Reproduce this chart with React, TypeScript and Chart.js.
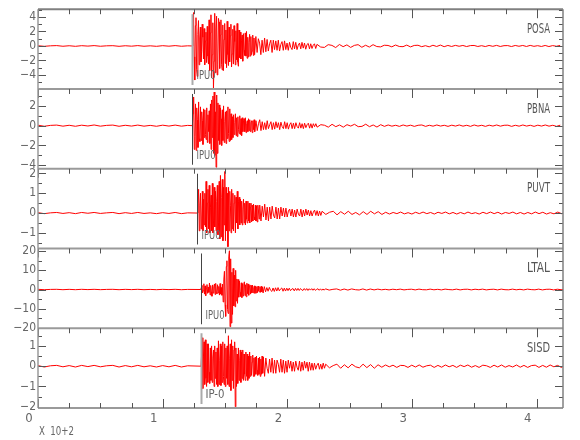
import React, { useEffect, useRef } from "react";
import { Chart, registerables } from "chart.js";

Chart.register(...registerables);

// ---------------- data ----------------
const STATIONS = ["POSA", "PBNA", "PUVT", "LTAL", "SISD"];
const PICK_LABELS = ["IPU0", "IPU0", "IPU0", "IPU0", "IP-0"];
const PICK_TIMES = [1.237, 1.238, 1.278, 1.305, 1.307];
const Y_MIN = [-5.93, -4.35, -1.79, -20.2, -2.06];
const Y_MAX = [5.07, 3.71, 2.24, 21.4, 1.87];
const Y_LABEL_TICKS = [
  [-4, -2, 0, 2, 4],
  [-4, -2, 0, 2],
  [-1, 0, 1, 2],
  [-20, -10, 0, 10, 20],
  [-2, -1, 0, 1],
];
const Y_MINOR_STEP = [1, 1, 0.5, 5, 0.5];
const X_MIN = 0;
const X_MAX = 4.21;
const X_LABEL_TICKS = [0, 1, 2, 3, 4];
const X_MINOR_STEP = 0.25;
const X_UNIT_LABEL = "X  10+2";

// sample intervals (x100 s) of the four parts of each trace
const PRE_DT = 0.05;   // noise before the pick, from t = 0
const EVENT_DT = 0.005; // strong motion, from the pick
const CODA_DT = 0.01;  // coda, after the strong motion
const TAIL_DT = 0.03;  // late noise

const PRE_POSA = [0.03, -0.05, 0.02, 0.05, -0.04, 0.03, -0.05, 0.04, -0.02, 0.05, -0.04, 0.02, 0.04, -0.05, 0.03, -0.03, 0.05, -0.04, 0.02, -0.05, 0.04, -0.03, 0.05, -0.04, 0.02];
const PRE_PBNA = [0.05, -0.06, 0.03, 0.06, -0.05, 0.04, -0.06, 0.05, -0.03, 0.07, -0.05, 0.03, 0.06, -0.06, 0.04, -0.04, 0.06, -0.05, 0.03, -0.06, 0.05, -0.04, 0.06, -0.05, 0.03];
const PRE_PUVT = [0.02, -0.03, 0.01, 0.03, -0.02, 0.02, -0.03, 0.03, -0.01, 0.03, -0.02, 0.01, 0.03, -0.03, 0.02, -0.02, 0.03, -0.02, 0.01, -0.03, 0.02, -0.02, 0.03, -0.03, 0.01];
const PRE_LTAL = [0.1, -0.1, 0.05, 0.1, -0.1, 0.08, -0.1, 0.1, -0.05, 0.1, -0.08, 0.05, 0.1, -0.1, 0.08, -0.05, 0.1, -0.1, 0.05, -0.1, 0.08, -0.05, 0.1, -0.1, 0.05];
const PRE_SISD = [0.03, -0.04, 0.02, 0.04, -0.03, 0.03, -0.04, 0.04, -0.02, 0.04, -0.03, 0.02, 0.04, -0.04, 0.03, -0.03, 0.04, -0.03, 0.02, -0.04, 0.03, -0.03, 0.04, -0.04, 0.02];

const EVENT_POSA = [
  0, 2.1, 4.6, -1.5, -4.7, 2.8, 3.9, -3.3, -4.2, 1.6,
  3.5, -2.6, 1.1, 2.6, -2.2, -0.8, 3.0, 1.2, -1.8, 2.4,
  -2.6, 0.7, 1.9, -2.3, 2.7, -1.4, -2.5, 3.6, -3.4, 1.8,
  4.3, -4.4, -1.2, 3.2, -5.8, -2.1, 4.5, -3.7, 2.2, 4.1,
  -4.0, -2.5, 3.8, 3.3, -3.1, 1.5, 3.6, -2.6, -3.3, 2.9,
  -3.4, 0.9, 3.1, -2.4, 2.2, -3.0, 3.4, -1.2, -2.7, 2.6,
  -2.2, 1.4, 3.0, -2.9, -1.1, 2.3, -2.5, 2.8, 0.6, -2.6,
  2.1, -1.9, 3.1, -2.2, -2.8, 2.2, -1.6, 1.9, -1.8, 0.8,
  1.5, -2.1, 1.7, -0.6, -1.3, 1.8, -1.4, 2.0, -1.7, 1.2,
  -1.5, 0.5, 1.6, -1.4, 1.3, -1.2, -0.7, 1.5, -1.3, 1.1,
];
const EVENT_PBNA = [
  0, 1.2, 2.9, -2.4, -1.1, 2.2, -2.5, 1.8, 0.6, -2.2,
  2.4, -1.3, -1.6, 1.9, -1.5, 1.4, 0.5, -1.9, 1.7, -1.2,
  1.6, -0.9, -1.4, 1.8, -1.7, 1.1, -0.6, 1.5, -1.8, 2.2,
  -2.4, 2.6, -1.2, 3.0, -2.8, 3.4, -3.0, 1.4, -4.2, 3.1,
  -2.8, 2.3, -1.5, 2.1, -1.9, 1.8, 0.7, -2.0, 1.6, -1.5,
  2.0, -1.7, 0.4, 1.4, -1.8, 1.5, -1.3, 1.9, -0.8, -1.6,
  1.7, -1.5, 1.2, -1.4, 0.9, -1.2, 1.1, -0.9, 0.3, 1.2,
  -1.0, 0.8, -1.1, 0.9, -0.4, -0.8, 1.0, -0.9, 0.7, -1.0,
  0.8, -0.6, 0.5, 0.7, -0.6, 0.8, -0.7, 0.2, 0.5, -0.6,
  0.7, -0.5, 0.6, -0.6, 0.3, 0.5, -0.7, 0.5, -0.4, 0.6,
];
const EVENT_PUVT = [
  0, 0.5, 1.2, -0.9, 0.4, 1.0, -0.8, -0.3, 1.1, -0.9,
  0.7, -0.6, 1.0, -0.7, 1.6, -1.0, 0.5, 1.2, -0.8, 1.4,
  -1.0, 0.3, 0.9, -0.9, 1.5, -1.0, -0.4, 1.3, -0.7, 1.1,
  -0.9, 0.6, 1.4, -1.1, -0.5, 1.6, -1.3, 1.9, -1.2, 0.8,
  1.7, -1.4, 1.3, -0.6, 2.1, -1.4, 1.3, -0.9, 1.0, -1.7,
  1.3, -0.9, 1.1, 0.4, -1.0, 1.2, -0.8, 1.0, -0.9, 0.5,
  0.9, -1.0, 0.8, -0.5, 1.1, -0.8, 0.6, 0.8, -0.6, 0.7,
  -0.5, 0.6, -0.6, 0.2, 0.7, -0.5, 0.5, -0.6, 0.6, -0.3,
  -0.5, 0.6, -0.4, 0.5, -0.5, 0.3, 0.5, -0.45, 0.4, -0.4,
  0.45, -0.2, -0.35, 0.4, -0.4, 0.35, -0.45, 0.4, 0.1, -0.3,
];
const EVENT_LTAL = [
  0, 1.1, 2.2, -1.8, -0.6, 3.0, -2.4, 1.9, -3.2, 0.8,
  2.6, -2.0, 1.2, -1.5, 3.4, -2.8, 2.1, -1.1, -3.5, 2.4,
  -1.9, 1.4, 2.9, -2.6, 3.2, -1.5, -2.2, 2.5, -1.8, 1.6,
  -2.9, 3.1, -2.4, 1.0, -3.0, 2.8, -6.5, 5.0, 9.5, -8.0,
  -14.0, 12.0, 15.0, -10.5, -12.5, 17.0, 20.2, -19.4, 16.0, -17.5,
  9.0, -13.0, 11.0, -8.5, 7.5, -9.0, 10.0, -6.0, 5.5, -7.2,
  5.2, -4.0, 4.4, -1.5, -3.6, 3.5, -4.2, 3.0, -3.4, 2.8,
  4.0, -3.1, 2.5, -3.8, 3.3, -2.2, 2.9, -3.0, 1.6, 2.4,
  -2.4, 2.1, -1.8, 2.3, -1.7, 0.9, 1.9, -2.0, 1.6, -1.8,
  1.5, -1.6, 1.8, -0.7, -1.3, 1.4, -1.5, 1.7, -1.2, 1.3,
];
const EVENT_SISD = [
  0, 0.6, 1.4, -1.1, 0.5, 1.2, -0.9, 1.3, -0.6, -1.0,
  1.1, -0.8, 1.1, -0.3, -0.85, 0.9, -0.7, 1.0, -0.8, 0.4,
  0.8, -1.0, 1.0, -0.6, 0.7, -0.9, 0.9, -1.0, 1.25, -0.9,
  0.3, 1.1, -0.95, 1.0, -0.8, 1.2, -0.5, -0.9, 1.1, -1.0,
  0.9, -0.6, 1.0, -0.9, 1.5, -1.0, 0.4, 1.1, -1.2, 1.3,
  -0.7, 1.0, -1.1, 0.8, 1.2, -2.0, 0.9, -1.0, 0.6, -0.85,
  0.9, -0.7, 0.3, 0.8, -0.8, 0.7, -0.6, 0.8, -0.7, 0.6,
  -0.4, -0.7, 0.7, -0.5, 0.6, -0.7, 0.5, -0.6, 0.7, -0.5,
  0.5, -0.45, 0.2, 0.55, -0.5, 0.4, -0.5, 0.45, -0.4, 0.5,
  -0.2, -0.45, 0.4, -0.4, 0.45, -0.5, 0.35, -0.4, 0.5, -0.35,
];

const CODA_POSA = [
  -1.2, 1.3, -0.9, 1.0, 0.4, -1.2, 0.8, -0.9, 1.1, -0.8,
  0.9, -0.7, 0.3, 0.8, -0.9, 0.8, -0.5, 0.7, -0.6, 0.8,
  -0.7, 0.2, 0.6, -0.6, 0.7, -0.5, 0.4, -0.6, 0.5, -0.2,
  -0.5, 0.6, -0.4, 0.5, -0.5, 0.1, 0.4, -0.4, 0.5, -0.3,
  0.4, -0.45, 0.2, 0.35, -0.4, 0.3, -0.35, 0.1, 0.3, -0.35,
];
const CODA_PBNA = [
  -0.6, 0.5, -0.5, 0.2, 0.6, -0.5, 0.4, -0.4, 0.3, -0.4,
  0.5, -0.3, 0.1, 0.4, -0.4, 0.3, -0.35, 0.4, -0.2, 0.3,
  -0.4, 0.35, -0.1, -0.3, 0.4, -0.3, 0.3, -0.35, 0.1, 0.3,
  -0.3, 0.25, -0.3, 0.3, -0.1, -0.25, 0.3, -0.25, 0.2, -0.3,
  0.25, -0.2, 0.1, 0.25, -0.25, 0.2, -0.25, 0.2, -0.1, 0.2,
];
const CODA_PUVT = [
  0.4, -0.4, 0.35, -0.2, 0.45, -0.35, 0.3, -0.4, 0.3, -0.3,
  0.35, -0.1, -0.25, 0.3, -0.3, 0.25, -0.3, 0.3, -0.15, 0.25,
  -0.2, 0.25, -0.2, 0.1, 0.2, -0.15, 0.2, -0.2, 0.15, -0.2,
  0.2, -0.05, -0.15, 0.2, -0.2, 0.15, -0.15, 0.2, -0.1, 0.15,
  -0.15, 0.12, -0.15, 0.05, 0.15, -0.12, 0.12, -0.15, 0.1, -0.12,
];
const CODA_LTAL = [
  -1.8, 1.5, -1.2, 1.0, -0.9, 1.1, -0.4, -1.0, 0.8, -1.0,
  0.9, -0.8, 1.0, -0.7, 0.3, 0.8, -0.9, 0.7, -0.8, 0.7,
  -0.6, 0.7, -0.6, 0.2, 0.5, -0.7, 0.6, -0.5, 0.6, -0.5,
  0.5, -0.2, -0.5, 0.5, -0.4, 0.5, -0.5, 0.4, -0.3, 0.45,
  -0.4, 0.4, -0.45, 0.1, 0.4, -0.4, 0.35, -0.4, 0.3, -0.35,
];
const CODA_SISD = [
  0.45, -0.5, 0.4, -0.1, -0.35, 0.35, -0.3, 0.4, -0.35, 0.3,
  -0.35, 0.3, 0.1, -0.3, 0.35, -0.3, 0.3, -0.35, 0.25, -0.3,
  0.3, -0.1, 0.25, -0.25, 0.2, -0.25, 0.25, -0.05, -0.2, 0.25,
  -0.25, 0.2, -0.2, 0.25, -0.1, 0.2, -0.25, 0.2, -0.2, 0.15,
  -0.2, 0.15, -0.15, 0.05, 0.15, -0.15, 0.1, -0.15, 0.15, -0.1,
];

const TAIL_POSA = [
  0.22, -0.15, -0.2, 0.18, 0.08, -0.22, 0.2, -0.1, 0.15, -0.2, 0.08, 0.18, -0.18, 0.1, -0.15, 0.18, -0.08,
  -0.13, 0.1, 0.07, -0.12, 0.13, -0.07, -0.1, 0.12, -0.13, 0.07, 0.1, -0.1, 0.04, -0.12, 0.1, -0.07, 0.12, -0.1, 0.07,
  -0.07, 0.08, -0.04, 0.07, -0.08, 0.05, 0.07, -0.07, 0.04, -0.08, 0.07, -0.05, 0.08, -0.07, 0.04,
  0.05, -0.08, 0.07, -0.04, 0.07, -0.07, 0.08, -0.05, 0.04, -0.07, 0.07, -0.08, 0.05, -0.04, 0.07,
];
const TAIL_PBNA = [
  -0.15, 0.1, 0.04, -0.15, 0.14, -0.1, 0.07, -0.15, 0.1, -0.04, 0.14, -0.1, -0.07, 0.15, -0.1, 0.07, -0.14, 0.1, -0.07,
  0.07, -0.05, 0.04, -0.07, 0.07, -0.04, 0.05, -0.07, 0.04, 0.07, -0.07, 0.04, -0.05, 0.07, -0.04, 0.04, -0.07, 0.05, -0.04, 0.07,
  -0.05, 0.04, -0.07, 0.07, -0.04, 0.04, -0.07, 0.05, -0.04, 0.07, -0.05, 0.04, 0.05, -0.07, 0.04, -0.05, 0.07, -0.04, 0.04, -0.07,
  0.05, -0.04, 0.07, -0.05, 0.04, -0.07, 0.05,
];
const TAIL_PUVT = [
  0.09, -0.07, 0.04, 0.09, -0.09, 0.07, -0.06, 0.09, -0.07, 0.03, -0.09, 0.07, -0.07, 0.09, -0.04, 0.07, -0.07,
  0.04, -0.05, 0.03, -0.03, 0.05, -0.04, 0.02, -0.05, 0.04, -0.03, 0.05, -0.03, 0.03, -0.05, 0.04, -0.02, 0.05,
  -0.04, 0.03, -0.05, 0.03, -0.04, 0.05, -0.03, 0.02, -0.05, 0.04, -0.03, 0.05, -0.03, 0.04, -0.05, 0.03, -0.02,
  0.05, -0.04, 0.03, -0.05, 0.03, -0.04, 0.05, -0.03, 0.04, -0.05, 0.02, -0.04, 0.05, -0.03, 0.03,
];
const TAIL_LTAL = [
  0.35, -0.3, 0.1, 0.3, -0.35, 0.25, -0.3, 0.3, -0.1, -0.25, 0.3, -0.3, 0.25, -0.2,
  0.2, -0.15, 0.1, -0.2, 0.15, -0.1, 0.2, -0.2, 0.05, 0.15, -0.2, 0.2, -0.1, -0.15, 0.2, -0.15, 0.1, -0.2,
  0.2, -0.05, -0.15, 0.2, -0.2, 0.1, 0.15, -0.2, 0.15, -0.1, 0.2, -0.2, 0.05, 0.15, -0.2, 0.2, -0.1, -0.15,
  0.2, -0.15, 0.1, -0.2, 0.2, -0.05, -0.15, 0.2, -0.2, 0.1, 0.15, -0.2, 0.15, -0.1, 0.2, -0.15,
];
const TAIL_SISD = [
  0.1, -0.08, 0.03, 0.1, -0.1, 0.07, -0.08, 0.1, -0.03, -0.08, 0.1, -0.07, 0.08, -0.1, 0.07,
  -0.05, 0.06, -0.03, 0.05, -0.06, 0.04, 0.03, -0.06, 0.05, -0.04, 0.06, -0.05, 0.02, 0.05, -0.06, 0.04, -0.05,
  0.06, -0.03, 0.04, -0.06, 0.05, -0.02, 0.06, -0.05, 0.03, -0.06, 0.05, 0.02, -0.06, 0.05, -0.04, 0.06, -0.05,
  0.03, -0.04, 0.06, -0.05, 0.04, -0.06, 0.03, 0.05, -0.06, 0.04, -0.05, 0.06, -0.03, 0.04, -0.06, 0.05, -0.03,
];

const PRE = [PRE_POSA, PRE_PBNA, PRE_PUVT, PRE_LTAL, PRE_SISD];
const EVENTS = [EVENT_POSA, EVENT_PBNA, EVENT_PUVT, EVENT_LTAL, EVENT_SISD];
const CODAS = [CODA_POSA, CODA_PBNA, CODA_PUVT, CODA_LTAL, CODA_SISD];
const TAILS = [TAIL_POSA, TAIL_PBNA, TAIL_PUVT, TAIL_LTAL, TAIL_SISD];

// ---------------- styles ----------------
const FONT = "'Liberation Sans Narrow', 'DejaVu Sans Condensed', 'Liberation Sans', sans-serif";
const TEXT = "#666";
const FRAME = "#9a9a9a";
const TICK = "#555";
const TRACE = "#ff0000";
const PICK_STYLE = [
  { color: "#aaa", width: 2 },
  { color: "#444", width: 1 },
  { color: "#444", width: 1 },
  { color: "#444", width: 1 },
  { color: "#aaa", width: 2 },
];

function buildPoints(k: number) {
  const pts: { x: number; y: number }[] = [];
  PRE[k].forEach((v, i) => pts.push({ x: X_MIN + i * PRE_DT, y: v }));
  const t0 = PICK_TIMES[k];
  EVENTS[k].forEach((v, i) => pts.push({ x: t0 + i * EVENT_DT, y: v }));
  const t1 = t0 + EVENTS[k].length * EVENT_DT;
  CODAS[k].forEach((v, i) => pts.push({ x: t1 + i * CODA_DT, y: v }));
  const t2 = t1 + CODAS[k].length * CODA_DT;
  TAILS[k].forEach((v, i) => pts.push({ x: t2 + i * TAIL_DT, y: v }));
  return pts;
}

const fmt = (v: number) => (v < 0 ? "\u2212" + Math.abs(v) : String(v));

const framePlugin = {
  id: "seisFrames",
  afterDatasetsDraw(chart: any) {
    const ctx = chart.ctx as CanvasRenderingContext2D;
    const xs = chart.scales.x;
    const { left, right } = chart.chartArea;
    ctx.save();
    let lastBottom = 0;
    STATIONS.forEach((name, k) => {
      const s = chart.scales["y" + k];
      const top = s.top;
      const bottom = s.bottom;
      lastBottom = bottom;
      // pick line
      const px = Math.round(xs.getPixelForValue(PICK_TIMES[k])) + 0.5;
      ctx.strokeStyle = PICK_STYLE[k].color;
      ctx.lineWidth = PICK_STYLE[k].width;
      ctx.beginPath();
      ctx.moveTo(px, top + 5);
      ctx.lineTo(px, bottom - 4);
      ctx.stroke();
      // pick label
      ctx.fillStyle = TEXT;
      ctx.font = `12px ${FONT}`;
      ctx.textAlign = "left";
      ctx.textBaseline = "middle";
      ctx.fillText(PICK_LABELS[k], px + 4, top + 67, 19);
      // station label
      ctx.fillStyle = "#555";
      ctx.font = `14px ${FONT}`;
      ctx.textAlign = "right";
      ctx.fillText(name, right - 13, top + 20, 23);
      // panel top border
      ctx.strokeStyle = k === 0 ? "#808080" : FRAME;
      ctx.lineWidth = 2;
      ctx.beginPath();
      ctx.moveTo(left, top);
      ctx.lineTo(right, top);
      ctx.stroke();
      // x ticks hanging from the top border
      ctx.strokeStyle = TICK;
      ctx.lineWidth = 1;
      ctx.beginPath();
      for (let v = X_MIN; v <= X_MAX + 1e-9; v += X_MINOR_STEP) {
        const major = Math.abs(v - Math.round(v)) < 1e-6;
        const x = Math.round(xs.getPixelForValue(v)) + 0.5;
        ctx.moveTo(x, top);
        ctx.lineTo(x, top + (major ? 9 : 5));
      }
      // y ticks left and right
      const step = Y_MINOR_STEP[k];
      const start = Math.ceil(Y_MIN[k] / step) * step;
      for (let v = start; v <= Y_MAX[k] + 1e-9; v += step) {
        const major = Y_LABEL_TICKS[k].some((m) => Math.abs(m - v) < 1e-6);
        const y = Math.round(s.getPixelForValue(v)) + 0.5;
        const len = major ? 8 : 4;
        ctx.moveTo(left, y);
        ctx.lineTo(left + len, y);
        ctx.moveTo(right, y);
        ctx.lineTo(right - len, y);
      }
      ctx.stroke();
    });
    // bottom border with upward ticks
    ctx.strokeStyle = FRAME;
    ctx.lineWidth = 2;
    ctx.beginPath();
    ctx.moveTo(left, lastBottom);
    ctx.lineTo(right, lastBottom);
    ctx.stroke();
    ctx.strokeStyle = TICK;
    ctx.lineWidth = 1;
    ctx.beginPath();
    for (let v = X_MIN; v <= X_MAX + 1e-9; v += X_MINOR_STEP) {
      const major = Math.abs(v - Math.round(v)) < 1e-6;
      const x = Math.round(xs.getPixelForValue(v)) + 0.5;
      ctx.moveTo(x, lastBottom);
      ctx.lineTo(x, lastBottom - (major ? 9 : 5));
    }
    ctx.stroke();
    // left / right borders
    const top0 = chart.scales.y0.top;
    ctx.strokeStyle = FRAME;
    ctx.lineWidth = 1.5;
    ctx.beginPath();
    ctx.moveTo(left, top0);
    ctx.lineTo(left, lastBottom);
    ctx.stroke();
    ctx.strokeStyle = "#808080";
    ctx.lineWidth = 1.5;
    ctx.beginPath();
    ctx.moveTo(right, top0);
    ctx.lineTo(right, lastBottom);
    ctx.stroke();
    // unit label
    ctx.fillStyle = TEXT;
    ctx.font = `13px ${FONT}`;
    ctx.textAlign = "left";
    ctx.textBaseline = "middle";
    ctx.fillText(X_UNIT_LABEL, left + 1, 432, 35);
    ctx.restore();
  },
};

export default function App() {
  const ref = useRef<HTMLCanvasElement>(null);
  useEffect(() => {
    const yScales: any = {};
    STATIONS.forEach((_, k) => {
      yScales["y" + k] = {
        type: "linear",
        position: "left",
        stack: "traces",
        stackWeight: 1,
        weight: STATIONS.length - k,
        offset: false,
        min: Y_MIN[k],
        max: Y_MAX[k],
        grid: { display: false, drawTicks: false },
        border: { display: false },
        afterBuildTicks: (s: any) => {
          s.ticks = Y_LABEL_TICKS[k].map((v) => ({ value: v }));
        },
        afterFit: (s: any) => {
          s.width = 38;
        },
        ticks: {
          autoSkip: false,
          padding: 2,
          color: TEXT,
          font: { family: FONT, size: 12 },
          callback: (v: any) => fmt(Number(v)),
        },
      };
    });
    const chart = new Chart(ref.current!, {
      type: "line",
      data: {
        datasets: STATIONS.map((name, k) => ({
          label: name,
          data: buildPoints(k),
          yAxisID: "y" + k,
          xAxisID: "x",
          borderColor: TRACE,
          borderWidth: 1,
          pointRadius: 0,
          tension: 0,
          fill: false,
        })),
      },
      options: {
        responsive: false,
        animation: false,
        devicePixelRatio: 1,
        parsing: false,
        normalized: true,
        layout: { padding: { left: 0, right: 17, top: 5, bottom: 0 } },
        plugins: { legend: { display: false }, tooltip: { enabled: false } },
        scales: {
          x: {
            type: "linear",
            position: "bottom",
            min: X_MIN,
            max: X_MAX,
            grid: { display: false, drawTicks: false },
            border: { display: false },
            afterBuildTicks: (s: any) => {
              s.ticks = X_LABEL_TICKS.map((v) => ({ value: v }));
            },
            afterFit: (s: any) => {
              s.height = 32;
            },
            ticks: {
              autoSkip: false,
              maxRotation: 0,
              padding: 3,
              labelOffset: -9,
              color: TEXT,
              font: { family: FONT, size: 13 },
              callback: (v: any) => String(v),
            },
          },
          ...yScales,
        },
      } as any,
      plugins: [framePlugin],
    });
    return () => chart.destroy();
  }, []);
  return (
    <div style={{ position: "absolute", left: 0, top: 0, width: 580, height: 440, background: "#fff" }}>
      <canvas ref={ref} width={580} height={440} style={{ display: "block", width: 580, height: 440 }} />
    </div>
  );
}
